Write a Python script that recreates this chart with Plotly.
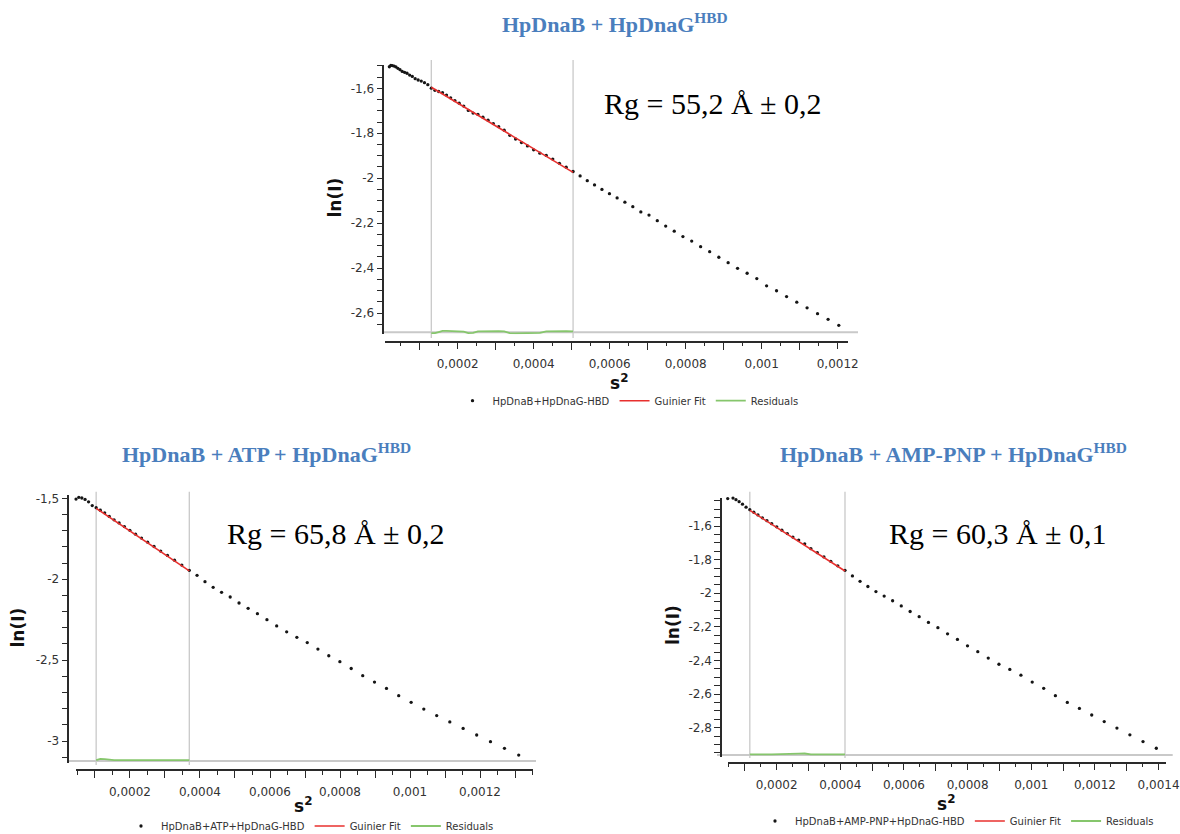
import plotly.graph_objects as go

W, H = 1180, 834

# ---------------- data: HpDnaB + HpDnaG-HBD ----------------
a_s2 = [20.16e-6, 23.99e-6, 28.15e-6, 32.65e-6, 37.48e-6, 42.64e-6, 48.14e-6, 53.96e-6, 60.12e-6,
        66.62e-6, 73.44e-6, 80.60e-6, 88.10e-6, 95.92e-6, 104.08e-6, 112.57e-6, 121.40e-6,
        130.55e-6, 140.04e-6, 149.87e-6, 160.02e-6, 170.51e-6, 181.33e-6, 192.49e-6, 203.98e-6,
        215.80e-6, 227.95e-6, 240.44e-6, 253.26e-6, 266.41e-6, 279.89e-6, 293.71e-6, 307.86e-6,
        322.35e-6, 337.16e-6, 352.31e-6, 367.80e-6, 383.61e-6, 399.76e-6, 416.24e-6, 433.06e-6,
        450.20e-6, 467.68e-6, 485.50e-6, 503.64e-6,
        522.12e-6, 540.93e-6, 560.08e-6, 579.56e-6, 599.37e-6, 619.51e-6, 639.99e-6, 660.80e-6,
        681.94e-6, 703.42e-6, 725.22e-6, 747.37e-6, 769.84e-6, 792.65e-6, 815.79e-6, 839.26e-6,
        863.07e-6, 887.21e-6, 911.68e-6, 936.48e-6, 961.62e-6, 987.09e-6, 1012.89e-6, 1039.03e-6,
        1065.50e-6, 1092.30e-6, 1119.44e-6, 1146.91e-6, 1174.71e-6, 1202.84e-6]
a_lnI = [-1.504, -1.498, -1.499, -1.501, -1.505, -1.511, -1.517, -1.525, -1.529, -1.533, -1.541,
         -1.547, -1.557, -1.563, -1.568, -1.575, -1.584,
         -1.5996, -1.6092, -1.6142, -1.6195, -1.6302, -1.6422, -1.6545, -1.6661, -1.6791, -1.6985,
         -1.7101, -1.7162, -1.7285, -1.7422, -1.7572, -1.7706, -1.7863, -1.8093, -1.8257, -1.8414,
         -1.8565, -1.8739, -1.8886, -1.8987, -1.9151, -1.9338, -1.9509, -1.9703,
         -1.990, -2.011, -2.030, -2.050, -2.069, -2.088, -2.107, -2.127, -2.150, -2.164, -2.189,
         -2.213, -2.236, -2.260, -2.280, -2.305, -2.327, -2.352, -2.376, -2.401, -2.423, -2.447,
         -2.479, -2.501, -2.527, -2.552, -2.577, -2.603, -2.628, -2.655]
a_fit_s2 = [130.55e-6, 503.64e-6]
a_fit_lnI = [-1.5956, -1.9743]
a_res_s2 = a_s2[17:45]
a_res = [-0.004, -0.004, 0.001, 0.006, 0.006, 0.005, 0.004, 0.004, 0.003, -0.004, -0.003, 0.004,
         0.005, 0.005, 0.004, 0.005, 0.004, -0.004, -0.005, -0.005, -0.004, -0.005, -0.003, 0.004,
         0.005, 0.004, 0.005, 0.004]

# ---------------- data: HpDnaB + ATP + HpDnaG-HBD ----------------
b_s2 = [45.83e-6, 53.82e-6, 62.44e-6, 71.71e-6, 81.61e-6, 92.16e-6,
        103.35e-6, 115.17e-6, 127.64e-6, 140.75e-6, 154.50e-6, 168.90e-6, 183.93e-6, 199.60e-6,
        215.91e-6, 232.87e-6, 250.46e-6, 268.70e-6, 287.57e-6, 307.09e-6, 327.25e-6, 348.05e-6,
        369.49e-6,
        391.56e-6, 414.29e-6, 437.65e-6, 461.65e-6, 486.29e-6, 511.57e-6, 537.50e-6, 564.06e-6,
        591.27e-6, 619.11e-6, 647.60e-6, 676.73e-6, 706.50e-6, 736.91e-6, 767.95e-6, 799.65e-6,
        831.98e-6, 864.95e-6, 898.56e-6, 932.81e-6, 967.71e-6, 1003.24e-6, 1039.42e-6, 1076.23e-6,
        1113.69e-6, 1151.79e-6, 1190.53e-6, 1229.90e-6, 1269.92e-6, 1310.58e-6]
b_lnI = [-1.505, -1.494, -1.498, -1.507, -1.522, -1.545,
         -1.558, -1.574, -1.590, -1.612, -1.633, -1.652, -1.675, -1.698, -1.722, -1.746, -1.771,
         -1.798, -1.826, -1.853, -1.883, -1.913, -1.945,
         -1.976, -2.015, -2.050, -2.081, -2.110, -2.147, -2.180, -2.213, -2.250, -2.289, -2.325,
         -2.359, -2.392, -2.432, -2.473, -2.510, -2.552, -2.596, -2.636, -2.675, -2.720, -2.761,
         -2.803, -2.843, -2.882, -2.922, -2.963, -3.004, -3.045, -3.087]
b_fit_s2 = [103.35e-6, 369.49e-6]
b_fit_lnI = [-1.5618, -1.9485]
b_res_s2 = b_s2[6:23]
b_res = [0.006, 0.013, 0.011, 0.006, 0.005, 0.005, 0.005, 0.005, 0.005, 0.005, 0.005, 0.005,
         0.005, 0.005, 0.005, 0.005, 0.005]

# ---------------- data: HpDnaB + AMP-PNP + HpDnaG-HBD ----------------
c_s2 = [46.24e-6, 54.24e-6, 62.88e-6, 72.17e-6, 82.08e-6, 92.66e-6, 103.86e-6,
        115.69e-6, 128.17e-6, 141.28e-6, 155.05e-6, 169.44e-6, 184.47e-6, 200.14e-6, 216.44e-6,
        233.42e-6, 251.00e-6, 269.22e-6, 288.08e-6, 307.58e-6, 327.75e-6, 348.53e-6, 369.95e-6,
        392.00e-6, 414.69e-6,
        438.02e-6, 462.01e-6, 486.64e-6, 511.89e-6, 537.78e-6, 564.30e-6, 591.46e-6, 619.31e-6,
        647.75e-6, 676.83e-6, 706.55e-6, 736.91e-6, 767.95e-6, 799.59e-6, 831.86e-6, 864.77e-6,
        898.32e-6, 932.57e-6, 967.40e-6, 1002.86e-6, 1038.97e-6, 1075.71e-6, 1113.16e-6,
        1151.18e-6, 1189.84e-6, 1229.13e-6, 1269.07e-6, 1309.72e-6, 1350.93e-6, 1392.78e-6]
c_lnI = [-1.437, -1.430, -1.434, -1.443, -1.455, -1.470, -1.488,
         -1.503, -1.518, -1.534, -1.551, -1.568, -1.586, -1.605, -1.625, -1.645, -1.666, -1.684,
         -1.706, -1.735, -1.759, -1.784, -1.810, -1.837, -1.864,
         -1.897, -1.929, -1.960, -1.990, -2.017, -2.045, -2.076, -2.109, -2.140, -2.174, -2.205,
         -2.242, -2.275, -2.313, -2.348, -2.386, -2.423, -2.454, -2.488, -2.529, -2.566, -2.610,
         -2.650, -2.686, -2.725, -2.764, -2.803, -2.843, -2.883, -2.923]
c_fit_s2 = [115.69e-6, 414.69e-6]
c_fit_lnI = [-1.5068, -1.8679]
c_res_s2 = c_s2[7:25]
c_res = [0.004, 0.003, 0.004, 0.004, 0.004, 0.004, 0.004, 0.004, 0.004, 0.004, 0.008, 0.009,
         0.004, 0.004, 0.004, 0.004, 0.004, 0.004]

# ---------------- texts and ticks ----------------
names = ["HpDnaB+HpDnaG-HBD", "HpDnaB+ATP+HpDnaG-HBD", "HpDnaB+AMP-PNP+HpDnaG-HBD"]
titles = ["HpDnaB + HpDnaG<sup>HBD</sup>", "HpDnaB + ATP + HpDnaG<sup>HBD</sup>",
          "HpDnaB + AMP-PNP + HpDnaG<sup>HBD</sup>"]
rg_texts = ["Rg = 55,2 Å ± 0,2", "Rg = 65,8 Å ± 0,2", "Rg = 60,3 Å ± 0,1"]

a_ytickvals = [-2.6, -2.4, -2.2, -2.0, -1.8, -1.6]
a_yticktext = ["-2,6", "-2,4", "-2,2", "-2", "-1,8", "-1,6"]
b_ytickvals = [-3.0, -2.5, -2.0, -1.5]
b_yticktext = ["-3", "-2,5", "-2", "-1,5"]
c_ytickvals = [-2.8, -2.6, -2.4, -2.2, -2.0, -1.8, -1.6]
c_yticktext = ["-2,8", "-2,6", "-2,4", "-2,2", "-2", "-1,8", "-1,6"]

x_label_vals = [0.0002, 0.0004, 0.0006, 0.0008, 0.0010, 0.0012, 0.0014]
x_label_text = ["0,0002", "0,0004", "0,0006", "0,0008", "0,001", "0,0012", "0,0014"]
x_long_vals = [0.0001, 0.0003, 0.0005, 0.0007, 0.0009, 0.0011, 0.0013]

# ---------------- styling ----------------
BLACK_DOT = "#151515"
RED = "#e8302e"
GREEN = "#86c66c"
GRAY = "#c9c9c9"
AX = "#2a2a2a"
TXT = "#333333"
BLUE = "#4a7ebd"
TICKFONT = dict(family="DejaVu Sans", size=12, color=TXT)


def px(x):
    return x / W


def py(y):
    return 1 - y / H


fig = go.Figure()

panels = [
    dict(s2=a_s2, lnI=a_lnI, fs=a_fit_s2, fl=a_fit_lnI, rs=a_res_s2, r=a_res, leg="legend"),
    dict(s2=b_s2, lnI=b_lnI, fs=b_fit_s2, fl=b_fit_lnI, rs=b_res_s2, r=b_res, leg="legend2"),
    dict(s2=c_s2, lnI=c_lnI, fs=c_fit_s2, fl=c_fit_lnI, rs=c_res_s2, r=c_res, leg="legend3"),
]

for i, p in enumerate(panels):
    n = "" if i == 0 else str(i + 1)
    rn = str(i + 4)
    fig.add_trace(go.Scatter(x=p["s2"], y=p["lnI"], mode="markers", name=names[i],
                             marker=dict(size=3.3, color=BLACK_DOT), cliponaxis=False,
                             xaxis="x" + n, yaxis="y" + n, legend=p["leg"]))
    fig.add_trace(go.Scatter(x=p["fs"], y=p["fl"], mode="lines", name="Guinier Fit",
                             line=dict(color=RED, width=1.6),
                             xaxis="x" + n, yaxis="y" + n, legend=p["leg"]))
    fig.add_trace(go.Scatter(x=p["rs"], y=p["r"], mode="lines", name="Residuals",
                             line=dict(color=GREEN, width=1.8),
                             xaxis="x" + rn, yaxis="y" + rn, legend=p["leg"]))

# geometry (pixels) per panel
geo = [
    dict(xdom=(385, 848), xr=(0.00000868, 0.0012271), xpos=341.7,
         ydom=(334.3, 65), yr=(-2.6948, -1.4963), ypos=383.3, rr=(-0.0089, 1.1896),
         ytv=a_ytickvals, ytt=a_yticktext, ymin=0.05, zero=(383, 858), vl=(60, 338),
         title=(615, 23), rg=(713, 103), ylab=(334.5, 198), xlab=(619, 382), legxy=(628, 400.7)),
    dict(xdom=(75.7, 533), xr=(0.0000449, 0.0013514), xpos=770,
         ydom=(763, 495), yr=(-3.1360, -1.4796), ypos=68.3, rr=(-0.01236, 1.644),
         ytv=b_ytickvals, ytt=b_yticktext, ymin=0.1, zero=(67, 536), vl=(491.7, 765),
         title=(266, 453), rg=(336, 533), ylab=(17.5, 628), xlab=(303, 805), legxy=(310, 826)),
    dict(xdom=(727.7, 1166), xr=(0.0000462, 0.0014232), xpos=762.7,
         ydom=(757, 497.7), yr=(-2.975, -1.4315), ypos=721, rr=(-0.0119, 1.5315),
         ytv=c_ytickvals, ytt=c_yticktext, ymin=0.05, zero=(717, 1172.7), vl=(491.7, 758),
         title=(953, 453), rg=(998, 533), ylab=(673, 625), xlab=(946, 803), legxy=(957, 821)),
]

layout = dict(
    width=W, height=H,
    margin=dict(l=0, r=0, t=0, b=0, autoexpand=False),
    paper_bgcolor="white", plot_bgcolor="white",
    showlegend=True,
)

annotations = []
shapes = []
fit_sets = [a_fit_s2, b_fit_s2, c_fit_s2]

for i, g in enumerate(geo):
    n = "" if i == 0 else str(i + 1)
    rn = str(i + 4)
    xa = dict(domain=[px(g["xdom"][0]), px(g["xdom"][1])], range=list(g["xr"]),
              anchor="free", position=py(g["xpos"]),
              showline=True, linecolor=AX, linewidth=1.5,
              showgrid=False, zeroline=False,
              tickmode="array", tickvals=x_label_vals, ticktext=x_label_text,
              ticks="outside", ticklen=7, tickwidth=1.3, tickcolor=AX,
              tickfont=TICKFONT, ticklabelstandoff=4,
              minor=dict(tickmode="linear", tick0=0, dtick=0.00005, ticks="outside",
                         ticklen=4, tickwidth=1.2, tickcolor=AX, showgrid=False))
    # overlay axis carrying the unlabeled long ticks (and the residual curve)
    xo = dict(overlaying="x" + n, range=list(g["xr"]), anchor="free", position=py(g["xpos"]),
              showline=False, showgrid=False, zeroline=False,
              tickmode="array", tickvals=x_long_vals, showticklabels=False,
              ticks="outside", ticklen=7, tickwidth=1.3, tickcolor=AX)
    ya = dict(domain=[py(g["ydom"][0]), py(g["ydom"][1])], range=list(g["yr"]),
              anchor="free", position=px(g["ypos"]),
              showline=True, linecolor=AX, linewidth=1.5,
              showgrid=False, zeroline=False,
              tickmode="array", tickvals=g["ytv"], ticktext=g["ytt"],
              ticks="outside", ticklen=6, tickwidth=1.3, tickcolor=AX,
              tickfont=TICKFONT,
              minor=dict(tickmode="linear", tick0=0, dtick=g["ymin"], ticks="outside",
                         ticklen=6, tickwidth=1.2, tickcolor=AX, showgrid=False))
    ra = dict(overlaying="y" + n, anchor="x" + rn, range=list(g["rr"]), visible=False,
              showgrid=False, zeroline=False)
    layout["xaxis" + n] = xa
    layout["xaxis" + rn] = xo
    layout["yaxis" + n] = ya
    layout["yaxis" + rn] = ra

    layout["legend" + n] = dict(
        orientation="h", x=px(g["legxy"][0]), y=py(g["legxy"][1]), xanchor="center",
        yanchor="middle", font=dict(family="DejaVu Sans", size=10, color=TXT),
        bgcolor="rgba(0,0,0,0)", itemwidth=30, tracegroupgap=0)

    # residual zero line (at residual = 0)
    shapes.append(dict(type="line", xref="paper", yref="y" + rn,
                       x0=px(g["zero"][0]), x1=px(g["zero"][1]), y0=0, y1=0,
                       line=dict(color=GRAY, width=2), layer="below"))
    # fit range markers
    for v in (fit_sets[i][0], fit_sets[i][-1]):
        shapes.append(dict(type="line", xref="x" + n, yref="paper", x0=v, x1=v,
                           y0=py(g["vl"][1]), y1=py(g["vl"][0]),
                           line=dict(color=GRAY, width=1.3), layer="below"))

    annotations.append(dict(text="<b>" + titles[i] + "</b>", x=px(g["title"][0]), y=py(g["title"][1]),
                            xref="paper", yref="paper", showarrow=False, xanchor="center",
                            yanchor="middle",
                            font=dict(family="Liberation Serif", size=22, color=BLUE)))
    annotations.append(dict(text=rg_texts[i], x=px(g["rg"][0]), y=py(g["rg"][1]),
                            xref="paper", yref="paper", showarrow=False, xanchor="center",
                            yanchor="middle",
                            font=dict(family="Liberation Serif", size=30, color="black")))
    annotations.append(dict(text="<b>ln(I)</b>", x=px(g["ylab"][0]), y=py(g["ylab"][1]),
                            xref="paper", yref="paper", showarrow=False, textangle=-90,
                            xanchor="center", yanchor="middle",
                            font=dict(family="DejaVu Sans", size=17, color="#111111")))
    annotations.append(dict(text="<b>s<sup>2</sup></b>", x=px(g["xlab"][0]), y=py(g["xlab"][1]),
                            xref="paper", yref="paper", showarrow=False,
                            xanchor="center", yanchor="middle",
                            font=dict(family="DejaVu Sans", size=17, color="#111111")))

layout["annotations"] = annotations
layout["shapes"] = shapes
fig.update_layout(**layout)

fig.write_html("out.html", config={"displayModeBar": False},
               post_script="document.body.style.margin='0';")
